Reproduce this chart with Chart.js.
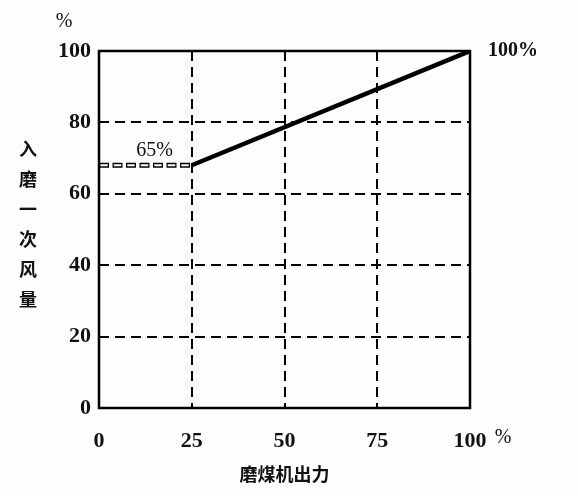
<!DOCTYPE html>
<html>
<head>
<meta charset="utf-8">
<script src="https://cdn.jsdelivr.net/npm/chart.js@4"></script>
<style>
  html, body { margin: 0; padding: 0; background: #fdfdfd; }
  #wrap { width: 578px; height: 496px; }
</style>
</head>
<body>
<div id="wrap"><canvas id="chart" width="578" height="496"></canvas></div>
<script>
// 磨煤机出力 (%) vs 入磨一次风量 (%)
const millLoad = [25, 100];
const primaryAir = [68, 100];
const lowLoad = [0, 25];
const lowLoadAir = [68, 68];
const xTicks = [0, 25, 50, 75, 100];
const yTicks = [0, 20, 40, 60, 80, 100];
const yTitle = ['入', '磨', '一', '次', '风', '量'];
const xTitle = '磨煤机出力';

const serif = '"Liberation Serif", "DejaVu Serif", serif';
const cjk = '"Noto Sans CJK SC", sans-serif';

const toPts = (xs, ys) => xs.map((x, i) => ({ x, y: ys[i] }));

const frame = {
  id: 'frame',
  afterDraw(chart) {
    const { ctx, chartArea: a, scales } = chart;
    ctx.save();
    ctx.strokeStyle = '#000';
    ctx.lineWidth = 2.5;
    ctx.strokeRect(a.left, a.top, a.right - a.left, a.bottom - a.top);

    ctx.fillStyle = '#111';
    ctx.textAlign = 'center';
    ctx.textBaseline = 'middle';

    // vertical y title
    ctx.font = 'bold 18px ' + cjk;
    yTitle.forEach((ch, i) => {
      ctx.fillText(ch, 28, 149 + i * 30);
    });

    // x title
    ctx.fillText(xTitle, (a.left + a.right) / 2, 474);

    // unit marks
    ctx.font = '20px ' + serif;
    ctx.fillText('%', 64, 22);
    ctx.fillText('%', a.right + 33, 438);

    // annotations
    ctx.fillText('65%', scales.x.getPixelForValue(15), scales.y.getPixelForValue(72));
    ctx.font = 'bold 20px ' + serif;
    ctx.textAlign = 'left';
    ctx.fillText('100%', a.right + 18, a.top);
    ctx.restore();
  },
};

new Chart(document.getElementById('chart'), {
  type: 'line',
  data: {
    datasets: [
      {
        data: toPts(millLoad, primaryAir),
        borderColor: '#000',
        borderWidth: 4.5,
        pointRadius: 0,
        tension: 0,
        order: 2,
      },
      {
        data: toPts(lowLoad, lowLoadAir),
        borderColor: '#000',
        borderWidth: 5,
        borderDash: [10, 3.5],
        pointRadius: 0,
        order: 1,
      },
      {
        data: toPts(lowLoad, lowLoadAir),
        borderColor: '#fdfdfd',
        borderWidth: 2.2,
        borderDash: [7.5, 6],
        borderDashOffset: -1.25,
        pointRadius: 0,
        order: 0,
      },
    ],
  },
  options: {
    responsive: false,
    animation: false,
    layout: { padding: { left: 0, right: 108, top: 51, bottom: 0 } },
    plugins: { legend: { display: false }, tooltip: { enabled: false } },
    scales: {
      x: {
        type: 'linear',
        min: 0,
        max: 100,
        afterBuildTicks: (s) => { s.ticks = xTicks.map((v) => ({ value: v })); },
        afterFit: (s) => { s.height = 88; },
        grid: { color: '#000', lineWidth: 2, drawTicks: false },
        border: { display: false, dash: [10, 6] },
        ticks: {
          padding: 20,
          color: '#111',
          font: { family: serif, size: 22, weight: 'bold' },
          maxRotation: 0,
        },
      },
      y: {
        min: 0,
        max: 100,
        afterBuildTicks: (s) => { s.ticks = yTicks.map((v) => ({ value: v })); },
        afterFit: (s) => { s.width = 99; },
        grid: { color: '#000', lineWidth: 2, drawTicks: false },
        border: { display: false, dash: [10, 6] },
        ticks: {
          padding: 8,
          color: '#111',
          font: { family: serif, size: 22, weight: 'bold' },
        },
      },
    },
  },
  plugins: [frame],
});
</script>
</body>
</html>
